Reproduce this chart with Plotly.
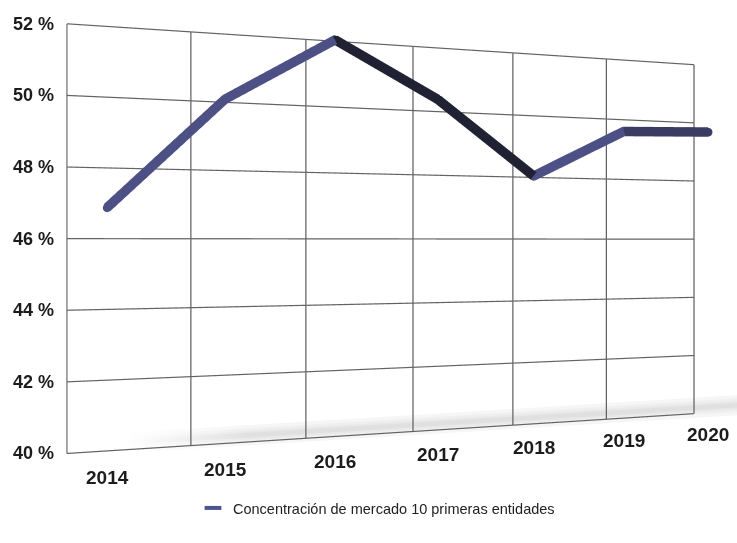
import plotly.graph_objects as go

# ---- chart data -------------------------------------------------------
years = ["2014", "2015", "2016", "2017", "2018", "2019", "2020"]
concentration = [46.9, 50.2, 52.2, 50.5, 48.1, 49.7, 49.8]
pct_ticks = [40, 42, 44, 46, 48, 50, 52]
pct_tick_text = ["40 %", "42 %", "44 %", "46 %", "48 %", "50 %", "52 %"]
series_name = "Concentración de mercado 10 primeras entidades"

# ---- look -------------------------------------------------------------
FONT = "Liberation Sans, Arial, Helvetica, sans-serif"
TEXT = "#1c1c1c"
GRID = "#636363"
LEGEND_DASH = "#4a5494"
TUBE_SCALE = [[0.0, "#4c5084"], [0.5, "#36385e"], [1.0, "#212134"]]

W, H, LEGEND_BAND = 737, 543, 60

# ---- 3D stage (lengths in "category" units; 1 % = PCT_UNIT) ----------
PCT_UNIT = 0.3004
EYE_X, EYE_Y, EYE_PCT = 1.2795, -5.415, 45.92   # viewer position
VIEW_DIR = (0.1884, 0.9821)                      # horizontal look direction
WALL_FIT_DEPTH = -0.134                          # plane where the grid pitch is one category
WALL_X0 = -0.2835                                # left edge of the grid in that plane
WALL_DEPTH = 0.2                                 # the grid wall sits just behind the series
SHADOW_DEPTHS = [0.30, 0.34, 0.38, 0.42]
SHADOW_WIDTHS = [9, 17, 27, 40]
SHADOW_TONES = ["#e0e0e0", "#e8e8e8", "#efefef", "#f6f6f6"]
SHADOW_SPAN = [0.45, 1.5, 6.7]                   # grid-index positions of the floor shadow
SHADOW_FADE = [0.0, 1.0, 1.0]
SHADOW_LEVEL = 40.2
LABEL_LEVEL = 39.07

X_RANGE = [-1.5, 7.5]
Y_RANGE = [-1.0, 1.0]
Z_RANGE = [38.5, 53.5]
NORM = 0.25


def onto_plane(xw, pct, depth):
    """Slide a wall point along the viewing ray onto the plane at `depth`."""
    k = (depth - EYE_Y) / (WALL_FIT_DEPTH - EYE_Y)
    return EYE_X + k * (xw - EYE_X), EYE_PCT + k * (pct - EYE_PCT)


fig = go.Figure()

# ---- back wall grid ---------------------------------------------------
gx, gy, gz = [], [], []
for j in range(len(years)):
    for p in (pct_ticks[0], pct_ticks[-1]):
        x, z = onto_plane(j + WALL_X0, p, WALL_DEPTH)
        gx.append(x); gy.append(WALL_DEPTH); gz.append(z)
    gx.append(None); gy.append(None); gz.append(None)
for p in pct_ticks:
    for j in (0, len(years) - 1):
        x, z = onto_plane(j + WALL_X0, p, WALL_DEPTH)
        gx.append(x); gy.append(WALL_DEPTH); gz.append(z)
    gx.append(None); gy.append(None); gz.append(None)

fig.add_trace(go.Scatter3d(
    x=gx, y=gy, z=gz, mode="lines",
    line=dict(color=GRID, width=2.4),
    hoverinfo="skip", showlegend=False))

# ---- soft shadow under the series ------------------------------------
for depth, width, tone in zip(SHADOW_DEPTHS, SHADOW_WIDTHS, SHADOW_TONES):
    sx, sz = [], []
    for pos in SHADOW_SPAN:
        x, z = onto_plane(pos + WALL_X0, SHADOW_LEVEL, depth)
        sx.append(x); sz.append(z)
    fig.add_trace(go.Scatter3d(
        x=sx, y=[depth] * len(sx), z=sz, mode="lines",
        line=dict(color=SHADOW_FADE, colorscale=[[0, "#ffffff"], [1, tone]],
                  cmin=0, cmax=1, width=width, showscale=False),
        hoverinfo="skip", showlegend=False))

# ---- the series tube (each segment shaded by its direction) ----------
idx = list(range(len(years)))
tx, tz, shade = [], [], []
for k in range(len(idx) - 1):
    step = concentration[k + 1] - concentration[k]
    tone = min(max(0.45 - step / 3.0, 0.0), 1.0)
    tx += [idx[k], idx[k + 1]]
    tz += [concentration[k], concentration[k + 1]]
    shade += [tone, tone]

fig.add_trace(go.Scatter3d(
    x=tx, y=[0.0] * len(tx), z=tz, mode="lines+markers",
    line=dict(color=shade, colorscale=TUBE_SCALE, cmin=0, cmax=1,
              width=19, showscale=False),
    marker=dict(size=5, color=shade, colorscale=TUBE_SCALE, cmin=0, cmax=1,
                line=dict(width=0), showscale=False),
    name=series_name, hoverinfo="skip", showlegend=False))

# legend entry (short dash swatch)
fig.add_trace(go.Scatter(
    x=[None], y=[None], mode="markers", name=series_name,
    marker=dict(symbol="line-ew", size=12, color=LEGEND_DASH,
                line=dict(color=LEGEND_DASH, width=4)),
    showlegend=True))

# ---- labels -----------------------------------------------------------
annotations = []
for p, txt in zip(pct_ticks, pct_tick_text):
    x, z = onto_plane(WALL_X0, p, WALL_DEPTH)
    annotations.append(dict(
        x=x, y=WALL_DEPTH, z=z, text=f"<b>{txt}</b>", showarrow=False,
        xanchor="right", yanchor="middle", xshift=-11,
        font=dict(family=FONT, size=18, color=TEXT)))
for i, yr in zip(idx, years):
    annotations.append(dict(
        x=i, y=0.0, z=LABEL_LEVEL, text=f"<b>{yr}</b>", showarrow=False,
        xanchor="center", yanchor="middle",
        font=dict(family=FONT, size=19, color=TEXT)))

# ---- camera -------------------------------------------------------------
mid_x = sum(X_RANGE) / 2
mid_y = sum(Y_RANGE) / 2
mid_z = sum(Z_RANGE) / 2


def to_norm(x, y, pct):
    return dict(x=NORM * (x - mid_x), y=NORM * (y - mid_y),
                z=NORM * PCT_UNIT * (pct - mid_z))


reach = (0.0 - EYE_Y) / VIEW_DIR[1]
eye = to_norm(EYE_X, EYE_Y, EYE_PCT)
center = to_norm(EYE_X + reach * VIEW_DIR[0], 0.0, EYE_PCT)

fig.update_layout(
    width=W, height=H,
    margin=dict(l=0, r=0, t=0, b=0),
    paper_bgcolor="white", plot_bgcolor="rgba(0,0,0,0)",
    hovermode=False,
    xaxis=dict(visible=False), yaxis=dict(visible=False),
    scene=dict(
        domain=dict(x=[0, 1], y=[LEGEND_BAND / H, 1]),
        bgcolor="white",
        xaxis=dict(visible=False, range=X_RANGE),
        yaxis=dict(visible=False, range=Y_RANGE),
        zaxis=dict(visible=False, range=Z_RANGE),
        aspectmode="manual",
        aspectratio=dict(x=NORM * (X_RANGE[1] - X_RANGE[0]),
                         y=NORM * (Y_RANGE[1] - Y_RANGE[0]),
                         z=NORM * PCT_UNIT * (Z_RANGE[1] - Z_RANGE[0])),
        camera=dict(eye=eye, center=center, up=dict(x=0, y=0, z=1),
                    projection=dict(type="perspective")),
        annotations=annotations,
    ),
    showlegend=True,
    legend=dict(orientation="h", x=193 / W, xanchor="left",
                y=(H - 508) / H, yanchor="middle",
                font=dict(family=FONT, size=14.5, color="#222222"),
                bgcolor="rgba(0,0,0,0)"),
)

fig.write_html("out.html")
